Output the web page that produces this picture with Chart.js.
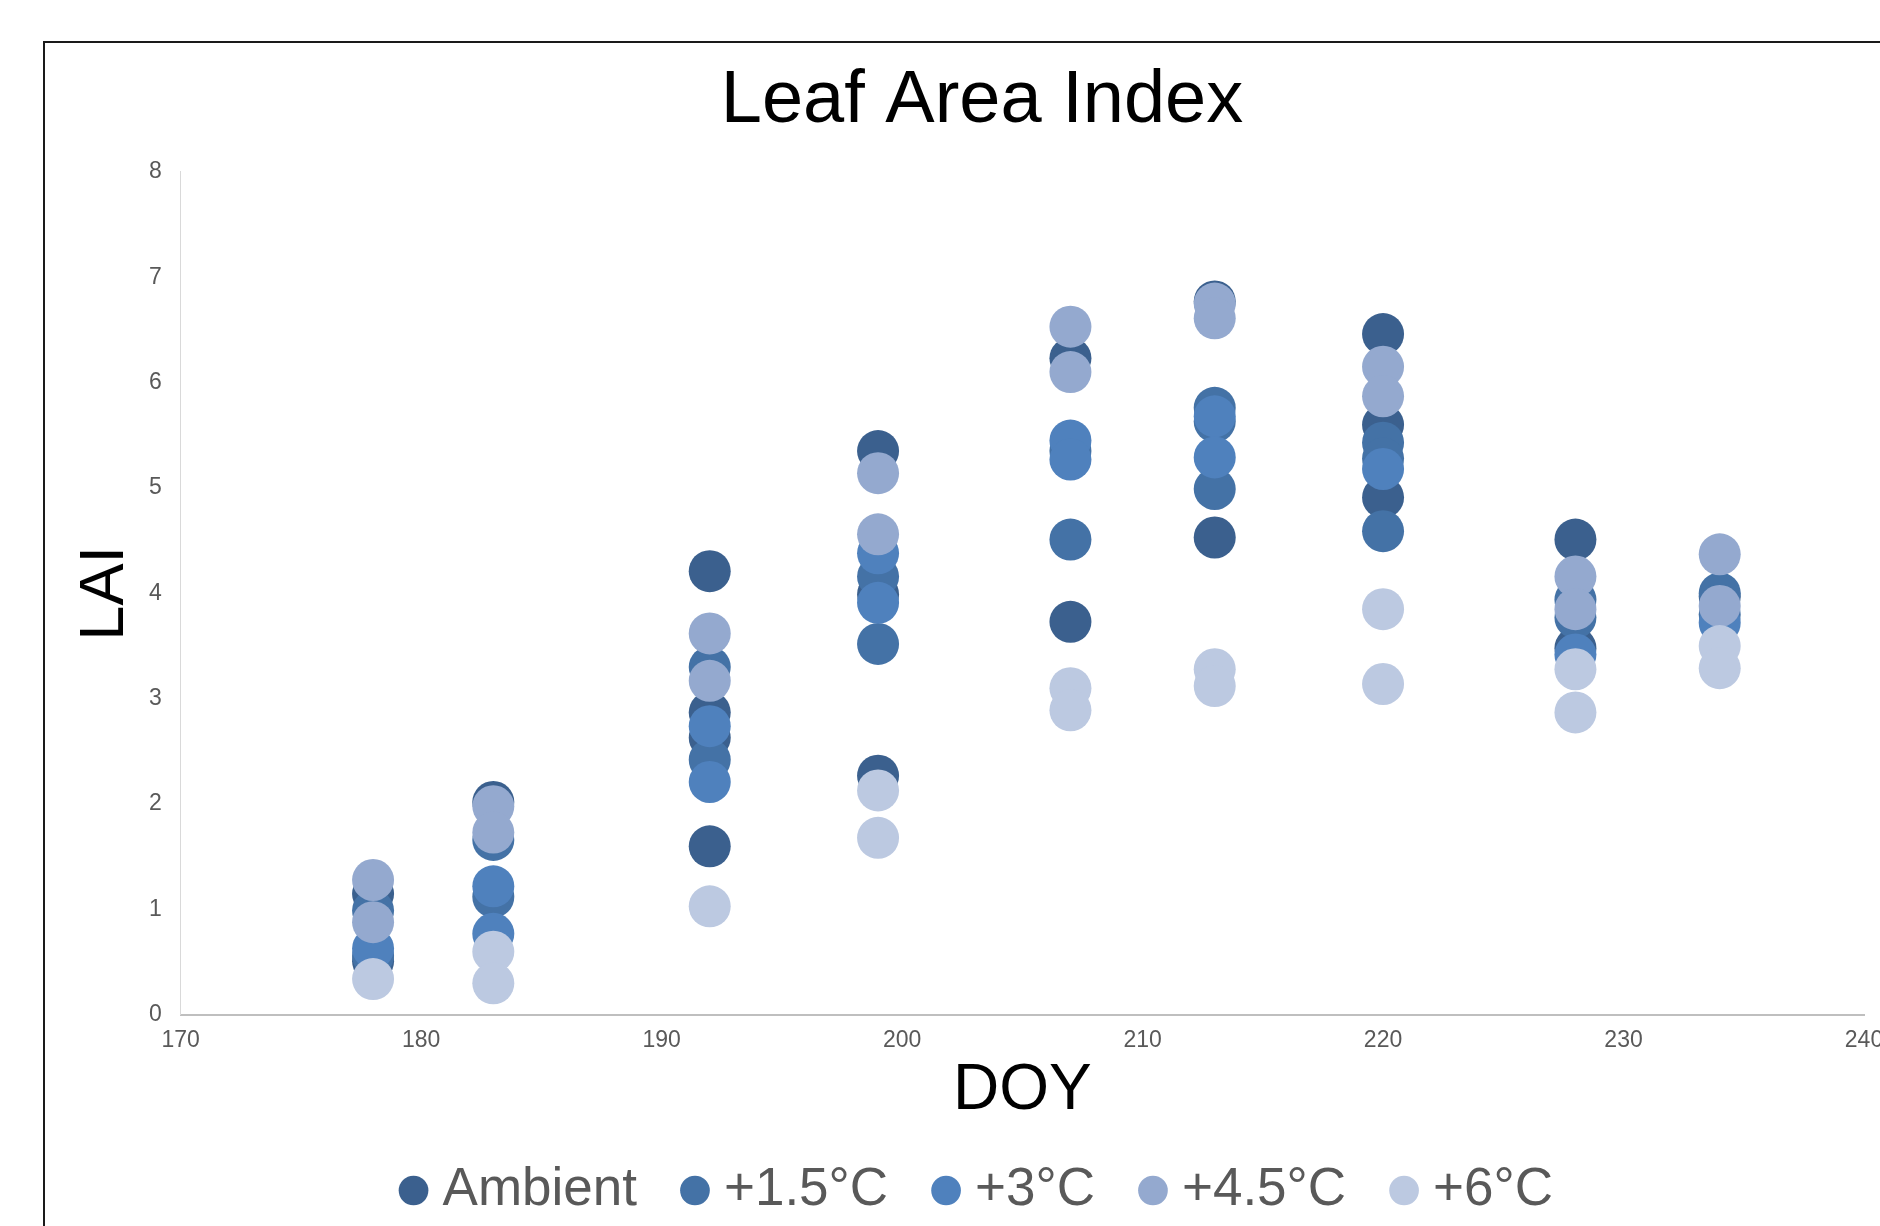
<!DOCTYPE html>
<html>
<head>
<meta charset="utf-8">
<title>Leaf Area Index</title>
<script src="https://cdn.jsdelivr.net/npm/chart.js@4.4.1/dist/chart.umd.min.js"></script>
<style>
  html, body { margin: 0; padding: 0; background: #fff; overflow: hidden; }
  #frame {
    position: absolute; left: 43px; top: 41px; width: 1900px; height: 1250px;
    border-left: 2px solid #1a1a1a; border-top: 2px solid #1a1a1a;
  }
  #chart { position: absolute; left: 0; top: 0; }
</style>
</head>
<body>
<div id="frame"><canvas id="chart" width="1876" height="1184"></canvas></div>
<script>
// series names and colours
const seriesNames = ['Ambient', '+1.5°C', '+3°C', '+4.5°C', '+6°C'];
const seriesColors = ['#3b608e', '#4472a6', '#4f81bd', '#94a9cf', '#bcc9e1'];

// day of year / LAI
const ambientDoy = [178, 178, 183, 192, 192, 192, 192, 199, 199, 199, 207, 207, 213, 213, 220, 220, 220, 228, 228, 234];
const ambientLai = [1.15, 0.51, 2.02, 4.21, 2.87, 2.63, 1.60, 5.35, 3.99, 2.27, 6.23, 3.73, 6.77, 4.53, 6.46, 5.60, 4.91, 4.51, 3.48, 3.97];

const plus15Doy = [178, 178, 183, 183, 192, 192, 199, 199, 207, 207, 213, 213, 213, 220, 220, 220, 228, 228, 234, 234];
const plus15Lai = [0.99, 0.56, 1.66, 1.12, 3.30, 2.42, 4.16, 3.52, 5.35, 4.51, 5.76, 5.63, 4.99, 5.43, 5.28, 4.59, 3.94, 3.77, 4.00, 3.80];

const plus3Doy = [178, 183, 183, 192, 192, 199, 199, 207, 207, 213, 213, 220, 228, 234];
const plus3Lai = [0.63, 1.22, 0.77, 2.74, 2.21, 4.38, 3.91, 5.45, 5.27, 5.68, 5.29, 5.18, 3.42, 3.72];

const plus45Doy = [178, 178, 183, 183, 192, 192, 199, 199, 207, 207, 213, 213, 220, 220, 228, 228, 234, 234];
const plus45Lai = [1.28, 0.88, 1.98, 1.73, 3.62, 3.17, 5.14, 4.56, 6.53, 6.10, 6.75, 6.61, 6.15, 5.87, 4.16, 3.85, 4.37, 3.88];

const plus6Doy = [178, 183, 183, 192, 199, 199, 207, 207, 213, 213, 220, 220, 228, 228, 234, 234];
const plus6Lai = [0.34, 0.60, 0.30, 1.03, 2.13, 1.68, 3.10, 2.89, 3.28, 3.12, 3.85, 3.14, 3.28, 2.87, 3.50, 3.29];

const xTicks = [170, 180, 190, 200, 210, 220, 230, 240];
const yTicks = [0, 1, 2, 3, 4, 5, 6, 7, 8];

const allDoy = [ambientDoy, plus15Doy, plus3Doy, plus45Doy, plus6Doy];
const allLai = [ambientLai, plus15Lai, plus3Lai, plus45Lai, plus6Lai];

const FONT = 'Liberation Sans, Arial, Helvetica, sans-serif';

// excel draws later series on top; chart.js draws low "order" last
const datasets = seriesNames.map((name, i) => ({
  label: name,
  data: allDoy[i].map((d, j) => ({ x: d, y: allLai[i][j] })),
  backgroundColor: seriesColors[i],
  borderColor: seriesColors[i],
  borderWidth: 0,
  pointRadius: 21,
  pointHoverRadius: 21,
  order: seriesNames.length - i
}));

new Chart(document.getElementById('chart'), {
  type: 'scatter',
  data: { datasets },
  options: {
    responsive: false,
    animation: false,
    // wide left padding keeps title/legend centred on the frame, not the plot
    layout: { padding: { left: 55, right: 57, top: 0, bottom: 0 } },
    plugins: {
      title: {
        display: true,
        text: 'Leaf Area Index',
        color: '#000',
        font: { family: FONT, size: 74, weight: 'normal', lineHeight: 1.2 },
        padding: { top: 14, bottom: 26 }
      },
      legend: {
        position: 'bottom',
        labels: {
          usePointStyle: true,
          pointStyle: 'circle',
          boxHeight: 21,
          boxWidth: 5,
          padding: 55.5,
          color: '#595959',
          font: { family: FONT, size: 53 },
          sort: (a, b) => a.datasetIndex - b.datasetIndex
        }
      },
      tooltip: { enabled: false }
    },
    scales: {
      x: {
        type: 'linear',
        min: xTicks[0],
        max: xTicks[xTicks.length - 1],
        afterBuildTicks: axis => { axis.ticks = xTicks.map(v => ({ value: v })); },
        grid: { display: false, drawTicks: false },
        border: { display: true, color: '#bfbfbf', width: 2 },
        ticks: { color: '#595959', font: { family: FONT, size: 23 }, padding: 11.5 },
        title: {
          display: true,
          text: 'DOY',
          color: '#000',
          font: { family: FONT, size: 64, lineHeight: 0.55 },
          padding: { top: 7.8, bottom: 0 }
        }
      },
      y: {
        min: yTicks[0],
        max: yTicks[yTicks.length - 1],
        afterBuildTicks: axis => { axis.ticks = yTicks.map(v => ({ value: v })); },
        grid: { display: false, drawTicks: false },
        border: { display: true, color: '#d9d9d9', width: 1 },
        ticks: { color: '#595959', font: { family: FONT, size: 23 }, padding: 19 },
        title: {
          display: true,
          text: 'LAI',
          color: '#000',
          font: { family: FONT, size: 63, lineHeight: 0.6 },
          padding: { top: -13.3, bottom: 5.4 }
        }
      }
    }
  }
});
</script>
</body>
</html>
